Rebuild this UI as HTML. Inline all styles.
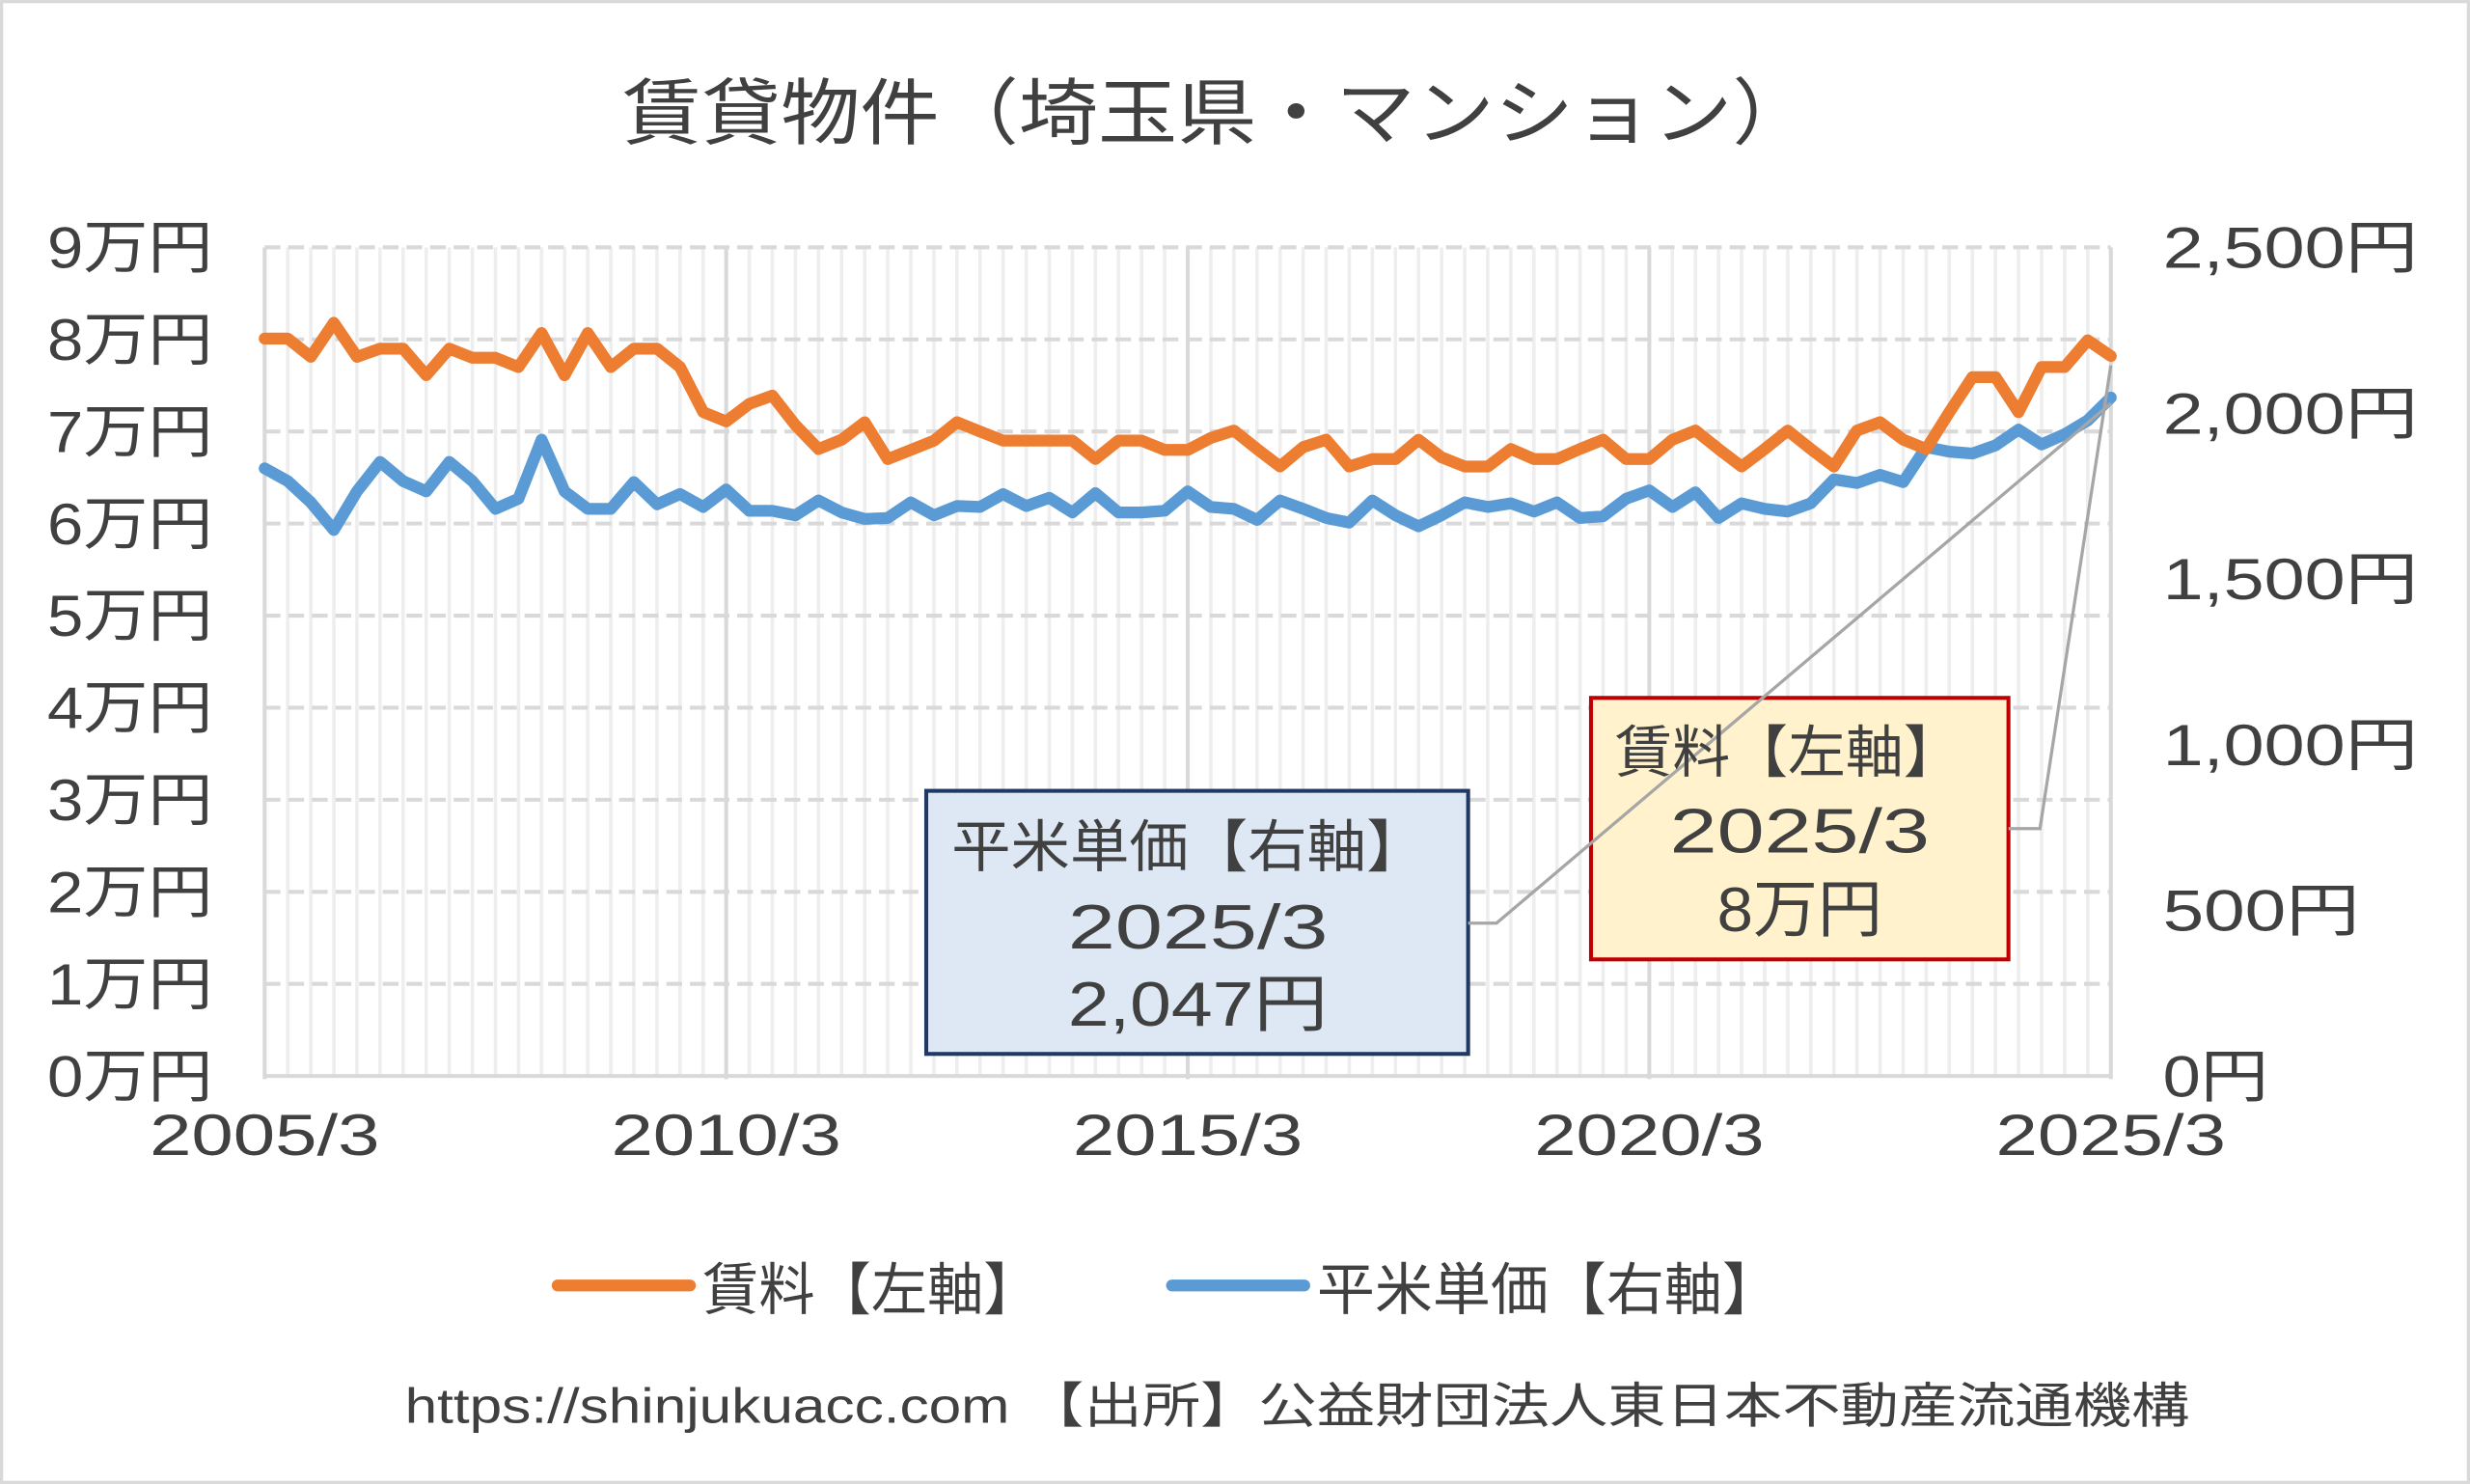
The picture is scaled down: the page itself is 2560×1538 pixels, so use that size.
<!DOCTYPE html>
<html><head><meta charset="utf-8"><style>
html,body{margin:0;padding:0;background:#fff;}
svg{display:block;}
text{font-family:"Liberation Sans","Noto Sans CJK JP",sans-serif;fill:#404040;}
</style></head><body>
<svg id="s" width="2560" height="1538" viewBox="0 0 1568 942" xmlns="http://www.w3.org/2000/svg">
<rect x="1" y="1" width="1566" height="940" fill="#fff" stroke="#d9d9d9" stroke-width="2"/>
<text x="395" y="88" font-size="46" textLength="755" lengthAdjust="spacingAndGlyphs" fill="#595959">賃貸物件（埼玉県・マンション）</text>
<g id="grid"></g>
<g id="lab" font-size="37"></g>
<polyline id="blue" fill="none" stroke="#5b9bd5" stroke-width="7.5" stroke-linejoin="round" stroke-linecap="round"/>
<polyline id="orange" fill="none" stroke="#ed7d31" stroke-width="7.5" stroke-linejoin="round" stroke-linecap="round"/>
<rect x="588" y="502" width="344" height="167" fill="#dde8f4" stroke="#1f3864" stroke-width="2.5"/>
<rect x="1010" y="443" width="265" height="166" fill="#fff2cc" stroke="#c00000" stroke-width="2.5"/>
<polyline points="932,586 950,586 1340,256" fill="none" stroke="#a6a6a6" stroke-width="2"/>
<polyline points="1275,526 1295,526 1340,232" fill="none" stroke="#a6a6a6" stroke-width="2"/>
<text x="604" y="550" font-size="36" textLength="301" lengthAdjust="spacingAndGlyphs">平米単価【右軸】</text>
<text x="678" y="602" font-size="40" textLength="165" lengthAdjust="spacingAndGlyphs">2025/3</text>
<text x="678" y="651" font-size="40" textLength="165" lengthAdjust="spacingAndGlyphs">2,047円</text>
<text x="1025" y="490" font-size="36" textLength="220" lengthAdjust="spacingAndGlyphs">賃料【左軸】</text>
<text x="1060" y="541" font-size="40" textLength="165" lengthAdjust="spacingAndGlyphs">2025/3</text>
<text x="1090" y="591" font-size="40" textLength="105" lengthAdjust="spacingAndGlyphs">8万円</text>
<line x1="354" y1="816" x2="438" y2="816" stroke="#ed7d31" stroke-width="7.5" stroke-linecap="round"/>
<text x="446" y="831" font-size="36" textLength="214" lengthAdjust="spacingAndGlyphs">賃料【左軸】</text>
<line x1="744" y1="816" x2="828" y2="816" stroke="#5b9bd5" stroke-width="7.5" stroke-linecap="round"/>
<text x="836" y="831" font-size="36" textLength="294" lengthAdjust="spacingAndGlyphs">平米単価【右軸】</text>
<text x="257" y="903" font-size="31" textLength="1133" lengthAdjust="spacingAndGlyphs" fill="#595959">https://shinjukuacc.com 【出所】公益財団法人東日本不動産流通機構</text>
</svg>
<script>
var NS="http://www.w3.org/2000/svg";
var L=168,R=1340,T=157,B=683;
function X(i){return L+i*(R-L)/80;}
function Y(v){return B-v*(B-T)/9;}
var g=document.getElementById('grid'),lab=document.getElementById('lab');
function el(p,tag,a,txt){var e=document.createElementNS(NS,tag);for(var k in a)e.setAttribute(k,a[k]);if(txt)e.textContent=txt;p.appendChild(e);return e;}
for(var i=0;i<=80;i++){if(i%20)el(g,'line',{x1:X(i),x2:X(i),y1:T,y2:B,stroke:'#eeeeee','stroke-width':2.2});}
for(var v=1;v<=9;v++)el(g,'line',{x1:L,x2:R,y1:Y(v),y2:Y(v),stroke:'#d9d9d9','stroke-width':2.5,'stroke-dasharray':'10 5'});
for(var i=0;i<=80;i+=20)el(g,'line',{x1:X(i),x2:X(i),y1:T,y2:B+2,stroke:'#d9d9d9','stroke-width':2.5});
el(g,'line',{x1:L,x2:R,y1:B,y2:B,stroke:'#d9d9d9','stroke-width':2.5});
for(var v=0;v<=9;v++)el(lab,'text',{x:30,y:Y(v)+13,textLength:105,lengthAdjust:'spacingAndGlyphs'},v+'万円');
var ry=['0円','500円','1,000円','1,500円','2,000円','2,500円'],rw=[67,125,162,162,162,162];
for(var k=0;k<6;k++)el(lab,'text',{x:1373,y:B-k*(B-T)/5+13,textLength:rw[k],lengthAdjust:'spacingAndGlyphs'},ry[k]);
var yrs=['2005/3','2010/3','2015/3','2020/3','2025/3'];
for(var k=0;k<5;k++)el(lab,'text',{x:X(k*20)-73,y:733,textLength:146,lengthAdjust:'spacingAndGlyphs'},yrs[k]);
var o=[8.01,8.01,7.81,8.18,7.81,7.9,7.9,7.61,7.9,7.8,7.8,7.7,8.07,7.61,8.07,7.7,7.9,7.9,7.7,7.21,7.11,7.3,7.39,7.07,6.81,6.91,7.1,6.7,6.8,6.9,7.1,7.0,6.9,6.9,6.9,6.9,6.7,6.9,6.9,6.8,6.8,6.93,7.01,6.81,6.62,6.83,6.91,6.62,6.7,6.7,6.91,6.72,6.62,6.62,6.81,6.7,6.7,6.81,6.91,6.7,6.7,6.91,7.01,6.81,6.62,6.81,7.01,6.81,6.62,7.01,7.1,6.91,6.81,7.21,7.59,7.59,7.21,7.7,7.7,7.99,7.82];
var b=[6.6,6.46,6.23,5.93,6.35,6.67,6.46,6.35,6.67,6.46,6.16,6.27,6.91,6.35,6.16,6.16,6.45,6.21,6.32,6.18,6.37,6.14,6.14,6.09,6.25,6.12,6.05,6.06,6.23,6.09,6.19,6.18,6.32,6.19,6.28,6.12,6.33,6.12,6.12,6.14,6.35,6.18,6.16,6.04,6.25,6.16,6.06,6.01,6.25,6.09,5.97,6.09,6.23,6.18,6.22,6.13,6.23,6.06,6.08,6.27,6.36,6.18,6.34,6.06,6.22,6.16,6.13,6.22,6.48,6.44,6.53,6.45,6.83,6.78,6.76,6.85,7.02,6.86,6.97,7.12,7.37];
function pts(a){return a.map(function(v,i){return X(i).toFixed(1)+','+Y(v).toFixed(1);}).join(' ');}
document.getElementById('orange').setAttribute('points',pts(o));
document.getElementById('blue').setAttribute('points',pts(b));
</script>
</body></html>
